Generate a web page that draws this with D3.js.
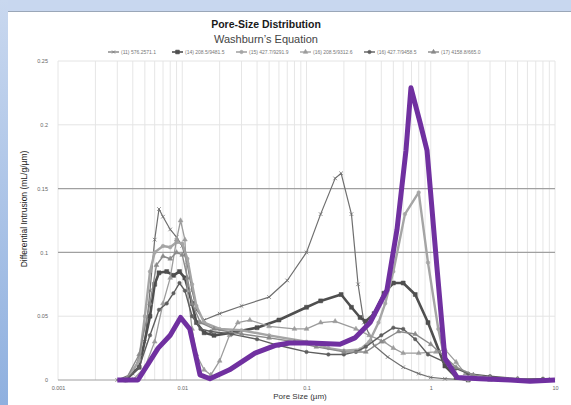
<!DOCTYPE html>
<html>
<head>
<meta charset="utf-8">
<script src="https://cdn.jsdelivr.net/npm/d3@7.9.0/dist/d3.min.js"></script>
<style>
  html, body { margin: 0; padding: 0; background: #fff; }
  svg { display: block; font-family: "Liberation Sans", Arial, sans-serif; }
</style>
</head>
<body>
<svg id="chart" width="571" height="405"></svg>
<script>
// pore size in µm, differential intrusion in mL/g/µm
const seriesNames = [
  '(11) 576.2571.1',
  '(14) 208.5/9481.5',
  '(15) 427.7/9291.9',
  '(16) 208.5/9312.6',
  '(16) 427.7/9458.5',
  '(17) 4158.8/665.0',
];

const sizeA = [0.003, 0.004, 0.005, 0.0055, 0.006, 0.0065, 0.007, 0.008, 0.009, 0.01, 0.011, 0.012, 0.013, 0.015, 0.02, 0.03, 0.05, 0.07, 0.1, 0.13, 0.17, 0.19, 0.23, 0.26, 0.29, 0.35, 0.45, 0.6, 0.8, 1.0, 1.3, 2];
const valA  = [0, 0.005, 0.03, 0.07, 0.11, 0.134, 0.128, 0.118, 0.112, 0.105, 0.09, 0.07, 0.055, 0.047, 0.052, 0.058, 0.065, 0.078, 0.1, 0.13, 0.158, 0.162, 0.13, 0.075, 0.045, 0.027, 0.018, 0.01, 0.005, 0.002, 0.001, 0];

const sizeB = [0.0035, 0.0045, 0.0055, 0.006, 0.0065, 0.0075, 0.0085, 0.0095, 0.0105, 0.012, 0.013, 0.015, 0.018, 0.025, 0.04, 0.06, 0.1, 0.13, 0.19, 0.23, 0.27, 0.3, 0.35, 0.42, 0.5, 0.6, 0.75, 0.95, 1.3, 1.6, 2];
const valB  = [0, 0.01, 0.05, 0.075, 0.084, 0.085, 0.082, 0.085, 0.08, 0.06, 0.045, 0.037, 0.035, 0.037, 0.041, 0.047, 0.057, 0.062, 0.067, 0.057, 0.049, 0.046, 0.052, 0.068, 0.076, 0.076, 0.067, 0.045, 0.011, 0.002, 0];

const sizeC = [0.0035, 0.0045, 0.005, 0.0055, 0.006, 0.007, 0.008, 0.009, 0.01, 0.011, 0.012, 0.013, 0.015, 0.02, 0.03, 0.05, 0.1, 0.15, 0.2, 0.27, 0.32, 0.38, 0.43, 0.5, 0.62, 0.8, 0.95, 1.15, 1.3, 1.6, 2];
const valC  = [0, 0.015, 0.05, 0.085, 0.1, 0.105, 0.104, 0.108, 0.107, 0.095, 0.075, 0.058, 0.045, 0.04, 0.039, 0.035, 0.03, 0.025, 0.023, 0.024, 0.03, 0.045, 0.06, 0.085, 0.13, 0.147, 0.092, 0.04, 0.016, 0.003, 0];

const sizeD = [0.004, 0.005, 0.006, 0.007, 0.008, 0.009, 0.0097, 0.0105, 0.011, 0.012, 0.013, 0.015, 0.017, 0.02, 0.024, 0.028, 0.035, 0.05, 0.08, 0.1, 0.13, 0.17, 0.25, 0.32, 0.42, 0.5, 0.6, 0.8, 1.1, 1.3, 1.6, 1.9, 2.5, 3];
const valD  = [0, 0.01, 0.03, 0.06, 0.08, 0.11, 0.125, 0.11, 0.07, 0.04, 0.02, 0.008, 0.004, 0.015, 0.035, 0.045, 0.047, 0.042, 0.04, 0.04, 0.045, 0.046, 0.04, 0.035, 0.03, 0.025, 0.021, 0.021, 0.022, 0.024, 0.014, 0.005, 0.001, 0];

const sizeE = [0.0035, 0.0045, 0.0055, 0.0065, 0.0075, 0.0085, 0.0095, 0.0105, 0.012, 0.014, 0.017, 0.025, 0.04, 0.06, 0.1, 0.15, 0.2, 0.25, 0.3, 0.4, 0.5, 0.6, 0.75, 0.95, 1.3, 1.6, 2, 3, 5, 8];
const valE  = [0, 0.01, 0.035, 0.055, 0.06, 0.068, 0.076, 0.07, 0.05, 0.04, 0.038, 0.036, 0.032, 0.027, 0.022, 0.02, 0.02, 0.022, 0.026, 0.035, 0.041, 0.04, 0.032, 0.02, 0.014, 0.009, 0.005, 0.003, 0.001, 0.001];

const sizeF = [0.0035, 0.0045, 0.0055, 0.0062, 0.007, 0.008, 0.009, 0.01, 0.011, 0.012, 0.014, 0.018, 0.03, 0.05, 0.08, 0.12, 0.2, 0.3, 0.4, 0.55, 0.75, 1.0, 1.3, 1.6, 2.2, 3, 5, 9];
const valF  = [0, 0.02, 0.06, 0.09, 0.097, 0.095, 0.1, 0.098, 0.08, 0.06, 0.045, 0.04, 0.036, 0.033, 0.03, 0.026, 0.022, 0.022, 0.03, 0.038, 0.036, 0.028, 0.018, 0.01, 0.004, 0.002, 0.001, 0];

const sizeP = [0.003, 0.0044, 0.0064, 0.008, 0.0097, 0.0115, 0.0139, 0.0167, 0.024, 0.0385, 0.0556, 0.073, 0.107, 0.186, 0.245, 0.325, 0.444, 0.535, 0.632, 0.693, 0.819, 0.933, 1.12, 1.3, 1.63, 2.49, 4.35, 6.3, 10];
const valP  = [0, 0, 0.025, 0.035, 0.049, 0.04, 0.004, 0.001, 0.008, 0.021, 0.027, 0.029, 0.029, 0.028, 0.033, 0.045, 0.0705, 0.118, 0.18, 0.229, 0.202, 0.18, 0.089, 0.017, 0.002, 0.001, 0, -0.001, 0];

const yTicks = [0, 0.05, 0.1, 0.15, 0.2, 0.25];
const xTicks = [0.001, 0.01, 0.1, 1, 10];

const zip = (xs, ys) => xs.map((x, i) => [x, ys[i]]);

const series = [
  { name: seriesNames[0], data: zip(sizeA, valA), color: '#6f6f6f', width: 1.2, symbol: 'x' },
  { name: seriesNames[1], data: zip(sizeB, valB), color: '#4f4f4f', width: 2.6, symbol: 'square' },
  { name: seriesNames[2], data: zip(sizeC, valC), color: '#a5a5a5', width: 2.4, symbol: 'circle' },
  { name: seriesNames[3], data: zip(sizeD, valD), color: '#9c9c9c', width: 1.3, symbol: 'triangle' },
  { name: seriesNames[4], data: zip(sizeE, valE), color: '#5e5e5e', width: 1.4, symbol: 'circle' },
  { name: seriesNames[5], data: zip(sizeF, valF), color: '#8a8a8a', width: 1.4, symbol: 'triangle' },
];

const svg = d3.select('#chart');
const W = 571, H = 405;
const margin = { left: 58, right: 16, top: 61, bottom: 25 };

// window frame
const grad = svg.append('defs').append('linearGradient').attr('id', 'frame')
  .attr('x1', 0).attr('y1', 0).attr('x2', 0).attr('y2', 1);
grad.append('stop').attr('offset', 0).attr('stop-color', '#c9d8ef');
grad.append('stop').attr('offset', 1).attr('stop-color', '#8fb0df');
svg.append('rect').attr('width', W).attr('height', H).attr('fill', '#fff');
svg.append('rect').attr('width', W).attr('height', 11).attr('fill', '#c8d7ef');
svg.append('rect').attr('width', 8).attr('height', H).attr('fill', 'url(#frame)');
svg.append('line').attr('x1', 8).attr('x2', W).attr('y1', 11.5).attr('y2', 11.5)
  .attr('stroke', '#9aa7b8').attr('stroke-width', 1);

const x = d3.scaleLog().domain([0.001, 10]).range([margin.left, W - margin.right]);
const y = d3.scaleLinear().domain([0, 0.25]).range([H - margin.bottom, margin.top]);

// vertical log gridlines
const minor = [];
for (let e = -3; e < 1; e++) {
  for (let m = 1; m <= 9; m++) minor.push(m * Math.pow(10, e));
}
minor.push(10);
svg.append('g').selectAll('line').data(minor).join('line')
  .attr('x1', (d) => x(d)).attr('x2', (d) => x(d))
  .attr('y1', y(0.25)).attr('y2', y(0))
  .attr('stroke', '#e6e6e6').attr('stroke-width', 1);

// horizontal gridlines
svg.append('g').selectAll('line').data(yTicks).join('line')
  .attr('x1', x(0.001)).attr('x2', x(10))
  .attr('y1', (d) => y(d)).attr('y2', (d) => y(d))
  .attr('stroke', (d) => (d === 0.1 || d === 0.15 || d === 0 ? '#a0a0a0' : '#e4e4e4'))
  .attr('stroke-width', (d) => (d === 0.1 || d === 0.15 ? 1.2 : 1));

// axes
const yAxis = svg.append('g').attr('transform', `translate(${margin.left},0)`)
  .call(d3.axisLeft(y).tickValues(yTicks).tickSize(0).tickPadding(10).tickFormat((d) => (d === 0 ? '0' : d3.format('~g')(d))));
const xAxis = svg.append('g').attr('transform', `translate(0,${y(0) + 2})`)
  .call(d3.axisBottom(x).tickValues(xTicks).tickSize(0).tickPadding(4).tickFormat((d) => d3.format('~g')(d)));
[yAxis, xAxis].forEach((g) => {
  g.select('.domain').remove();
  g.selectAll('text').attr('fill', '#666').attr('font-size', 5.5).attr('font-family', '"Liberation Sans", Arial, sans-serif');
});

// series lines and markers
const line = d3.line().x((d) => x(d[0])).y((d) => y(d[1]));
const symbolPath = (kind, size) => {
  if (kind === 'x') return d3.symbol(d3.symbolX || d3.symbolCross, size)();
  if (kind === 'square') return d3.symbol(d3.symbolSquare, size)();
  if (kind === 'triangle') return d3.symbol(d3.symbolTriangle, size)();
  return d3.symbol(d3.symbolCircle, size)();
};

series.forEach((s) => {
  const g = svg.append('g');
  g.append('path').datum(s.data).attr('d', line)
    .attr('fill', 'none').attr('stroke', s.color).attr('stroke-width', s.width)
    .attr('stroke-linejoin', 'round');
  g.selectAll('path.mark').data(s.data).join('path').attr('class', 'mark')
    .attr('transform', (d) => `translate(${x(d[0])},${y(d[1])})`)
    .attr('d', symbolPath(s.symbol, s.symbol === 'square' ? 16 : 10))
    .attr('fill', s.symbol === 'x' ? 'none' : s.color)
    .attr('stroke', s.color).attr('stroke-width', s.symbol === 'x' ? 0.8 : 0.5);
});

// highlighted purple curve
svg.append('path').datum(zip(sizeP, valP)).attr('d', line)
  .attr('fill', 'none').attr('stroke', '#7030a0').attr('stroke-width', 5)
  .attr('stroke-linejoin', 'round');

// titles
svg.append('text').attr('x', 266).attr('y', 28).attr('text-anchor', 'middle')
  .attr('font-family', '"Liberation Sans Narrow", "Liberation Sans", Arial, sans-serif')
  .attr('font-weight', 'bold').attr('font-size', 10.5).attr('fill', '#1a1a1a')
  .text('Pore-Size Distribution');
svg.append('text').attr('x', 266).attr('y', 43).attr('text-anchor', 'middle')
  .attr('font-family', '"Liberation Sans Narrow", "Liberation Sans", Arial, sans-serif')
  .attr('font-size', 11).attr('fill', '#444')
  .text('Washburn\u2019s Equation');

// legend
const legend = svg.append('g').attr('transform', 'translate(108,52)');
const items = legend.selectAll('g').data(series).join('g')
  .attr('transform', (_, i) => `translate(${i * 64},0)`);
items.append('line').attr('x1', 0).attr('x2', 11).attr('y1', 0).attr('y2', 0)
  .attr('stroke', (d) => d.color).attr('stroke-width', (d) => Math.min(d.width, 1.6));
items.append('path').attr('transform', 'translate(5.5,0)')
  .attr('d', (d) => symbolPath(d.symbol, d.symbol === 'square' ? 14 : 9))
  .attr('fill', (d) => (d.symbol === 'x' ? 'none' : d.color)).attr('stroke', (d) => d.color).attr('stroke-width', 0.6);
items.append('text').attr('x', 13).attr('y', 1.8).attr('font-size', 5)
  .attr('fill', '#777').text((d) => d.name);

// axis titles
svg.append('text').attr('x', 300).attr('y', 399).attr('text-anchor', 'middle')
  .attr('font-size', 8).attr('fill', '#333').text('Pore Size (\u00b5m)');
svg.append('text').attr('transform', 'translate(27,209) rotate(-90)').attr('text-anchor', 'middle')
  .attr('font-size', 8.5).attr('fill', '#222').text('Differential Intrusion (mL/g/\u00b5m)');
</script>
</body>
</html>
